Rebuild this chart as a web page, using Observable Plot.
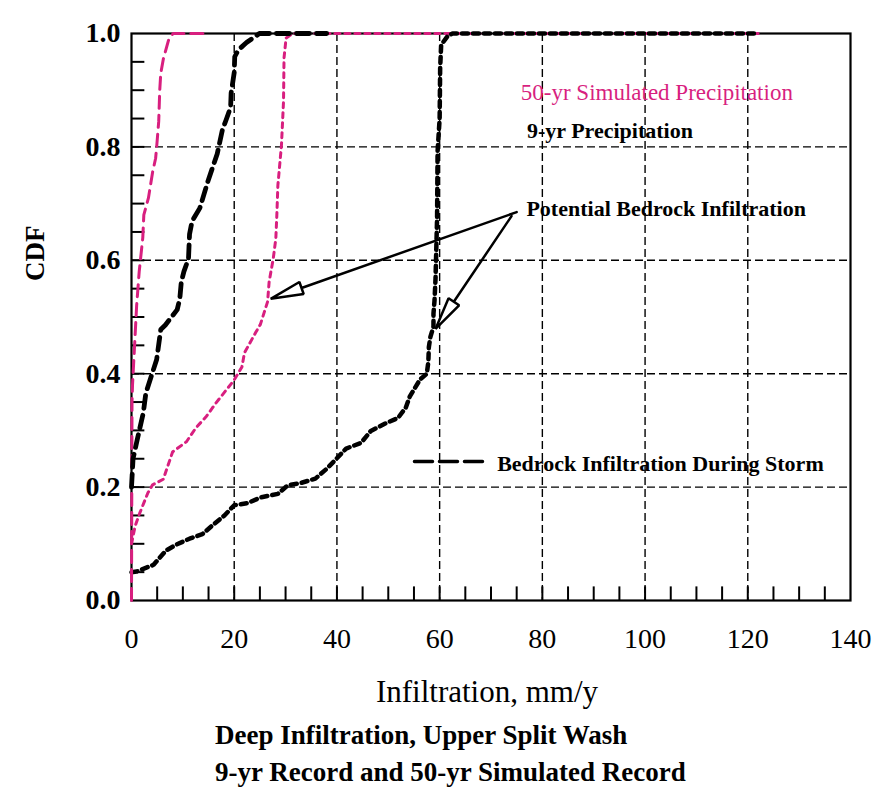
<!DOCTYPE html>
<html>
<head>
<meta charset="utf-8">
<script src="https://cdn.jsdelivr.net/npm/d3@7"></script>
<script src="https://cdn.jsdelivr.net/npm/@observablehq/plot@0.6"></script>
<style>
  body { margin: 0; background: #fff; }
  #wrap { position: relative; width: 872px; height: 795px; background: #fff;
          font-family: "Liberation Serif", "Times New Roman", serif; color: #000; overflow: hidden; }
  #chart { position: absolute; left: 0; top: 0; }
  #xlabel { position: absolute; left: 287px; width: 400px; top: 676px; text-align: center;
            font-size: 31px; line-height: 31px; }
  #title { position: absolute; left: 215px; top: 717px; font-size: 27px; line-height: 37px;
           font-weight: bold; white-space: nowrap; }
</style>
</head>
<body>
<div id="wrap">
  <div id="chart"></div>
  <div id="xlabel">Infiltration, mm/y</div>
  <div id="title">Deep Infiltration, Upper Split Wash<br>9-yr Record and 50-yr Simulated Record</div>
</div>
<script>
// ---- Data ----
// 50-yr simulated precipitation, bedrock infiltration during storm (magenta long dash)
const sim50StormX = [0, 0.1, 0.2, 0.6, 1.0, 1.5, 2.2, 2.4, 3.3, 4.1, 4.7, 4.9, 5.3, 5.5, 5.7, 6.2, 7.2, 8.1, 14.6];
const sim50StormY = [0, 0.35, 0.38, 0.45, 0.52, 0.58, 0.64, 0.68, 0.71, 0.755, 0.78, 0.80, 0.845, 0.90, 0.93, 0.955, 0.988, 1.0, 1.0];

// 50-yr simulated precipitation, potential bedrock infiltration (magenta dotted)
const sim50PotX = [0, 0.7, 1.6, 3.2, 4.1, 6.2, 8.0, 10.7, 12.5, 14.6, 16.5, 20.0, 21.5, 22.0, 24.2, 25.1, 26.5, 26.8, 27.6, 28.1, 28.3, 28.5, 29.2, 29.6, 29.7, 30.1, 31.4, 122];
const sim50PotY = [0.10, 0.131, 0.154, 0.19, 0.204, 0.214, 0.262, 0.28, 0.304, 0.325, 0.349, 0.389, 0.412, 0.437, 0.473, 0.487, 0.527, 0.562, 0.603, 0.638, 0.68, 0.732, 0.803, 0.88, 0.957, 0.992, 1.0, 1.0];

// 9-yr precipitation, bedrock infiltration during storm (black long dash)
const rec9StormX = [0, 0.3, 1.1, 2.3, 2.8, 4.9, 5.7, 6.6, 8.9, 9.4, 9.7, 10.2, 11.1, 11.3, 11.8, 13.3, 14.9, 16.7, 17.7, 18.4, 19.3, 19.4, 20.0, 20.1, 20.8, 22.4, 24.9, 38];
const rec9StormY = [0.20, 0.25, 0.283, 0.331, 0.366, 0.425, 0.478, 0.486, 0.513, 0.532, 0.562, 0.58, 0.603, 0.646, 0.669, 0.692, 0.74, 0.788, 0.83, 0.847, 0.87, 0.895, 0.931, 0.959, 0.971, 0.984, 1.0, 1.0];

// 9-yr precipitation, potential bedrock infiltration (black dotted)
const rec9PotX = [0, 1.0, 4.3, 6.7, 8.6, 11.3, 13.8, 15.7, 18.1, 20.0, 22.7, 25.2, 28.5, 30.4, 32.9, 35.8, 38.1, 39.9, 41.8, 44.7, 46.6, 49.4, 51.9, 53.4, 54.2, 56.2, 57.5, 57.8, 57.9, 58.2, 58.8, 58.8, 59.0, 59.2, 59.5, 59.6, 60.0, 60.1, 60.3, 61.6, 62.5, 122];
const rec9PotY = [0.05, 0.051, 0.063, 0.088, 0.098, 0.109, 0.117, 0.132, 0.15, 0.168, 0.172, 0.182, 0.188, 0.203, 0.207, 0.215, 0.233, 0.25, 0.268, 0.278, 0.299, 0.312, 0.322, 0.34, 0.36, 0.39, 0.40, 0.421, 0.447, 0.465, 0.483, 0.506, 0.529, 0.568, 0.674, 0.792, 0.85, 0.939, 0.98, 0.996, 1.0, 1.0];

// Axis ticks
const xTickLabels = [0, 20, 40, 60, 80, 100, 120, 140];
const yTickLabels = [0, 0.2, 0.4, 0.6, 0.8, 1.0];
const xGrid = [20, 40, 60, 80, 100, 120];
const yGrid = [0.2, 0.4, 0.6, 0.8];
const xMinor = d3.range(5, 140, 5);
const yMinor = d3.range(1, 20).map(i => i * 0.05);

// Annotations (in data coordinates)
const annotText = ["50-yr Simulated Precipitation", "9-yr Precipitation", "Potential Bedrock Infiltration", "Bedrock Infiltration During Storm"];
const annotX = [75.8, 77.0, 76.9, 71.2];
const annotY = [0.895, 0.829, 0.691, 0.241];
const annotColor = ["#d81f7f", "#000", "#000", "#000"];
const arrowFromX = [75.0, 74.0];
const arrowFromY = [0.685, 0.678];
const arrowToX = [27.1, 59.2];
const arrowToY = [0.532, 0.479];
const legendLineX = [55.1, 69.1];
const legendLineY = [0.245, 0.245];

// ---- Build ----
const zip = (xs, ys) => xs.map((x, i) => ({x, y: ys[i]}));
const MAGENTA = "#d81f7f";
const annots = annotText.map((t, i) => ({t, x: annotX[i], y: annotY[i], c: annotColor[i]}));
const arrows = arrowFromX.map((_, i) => ({x1: arrowFromX[i], y1: arrowFromY[i], x2: arrowToX[i], y2: arrowToY[i]}));

const plot = Plot.plot({
  width: 872,
  height: 680,
  marginLeft: 131,
  marginRight: 22,
  marginTop: 33,
  marginBottom: 80,
  style: {fontFamily: "Liberation Serif, Times New Roman, serif", background: "white", color: "black"},
  x: {domain: [0, 140]},
  y: {domain: [0, 1]},
  marks: [
    Plot.ruleX(xGrid, {stroke: "black", strokeWidth: 1.4, strokeDasharray: "8,4"}),
    Plot.ruleY(yGrid, {stroke: "black", strokeWidth: 1.4, strokeDasharray: "8,4"}),
    Plot.ruleX(xMinor, {x: d => d, y1: 0, y2: 0.024, stroke: "black", strokeWidth: 2}),
    Plot.ruleY(yMinor, {y: d => d, x1: 0, x2: 2.6, stroke: "black", strokeWidth: 2}),
    Plot.frame({stroke: "black", strokeWidth: 2.2}),
    Plot.axisX(xTickLabels, {tickSize: 0, tickPadding: 28, fontSize: 28, label: null}),
    Plot.axisY(yTickLabels, {tickSize: 0, tickPadding: 11, fontSize: 28, fontWeight: "bold", tickFormat: d3.format(".1f"), label: null}),
    Plot.text(["CDF"], {frameAnchor: "left", dx: -96, dy: -36, rotate: -90, fontSize: 27, fontWeight: "bold"}),
    // curves
    Plot.line(zip(sim50PotX, sim50PotY), {x: "x", y: "y", stroke: MAGENTA, strokeWidth: 3, strokeDasharray: "5,5"}),
    Plot.line(zip(rec9PotX, rec9PotY), {x: "x", y: "y", stroke: "black", strokeWidth: 4.5, strokeDasharray: "6,5"}),
    Plot.line(zip(sim50StormX, sim50StormY), {x: "x", y: "y", stroke: MAGENTA, strokeWidth: 3, strokeDasharray: "12,7"}),
    Plot.line(zip(rec9StormX, rec9StormY), {x: "x", y: "y", stroke: "black", strokeWidth: 4.8, strokeDasharray: "13,7"}),
    // legend line
    Plot.line(zip(legendLineX, legendLineY), {x: "x", y: "y", stroke: "black", strokeWidth: 3.5, strokeDasharray: "18,7"}),
    // annotations
    Plot.text(annots.slice(0, 1), {x: "x", y: "y", text: "t", fill: "c", textAnchor: "start", lineAnchor: "middle", fontSize: 23}),
    Plot.text(annots.slice(1), {x: "x", y: "y", text: "t", fill: "c", textAnchor: "start", lineAnchor: "middle", fontSize: 22, fontWeight: "bold"}),
    Plot.arrow(arrows, {x1: "x1", y1: "y1", x2: "x2", y2: "y2", stroke: "black", strokeWidth: 2.5, headLength: 20, headAngle: 22})
  ]
});

// Turn the open arrowheads into hollow triangles, as in the reference.
for (const p of plot.querySelectorAll('g[aria-label="arrow"] path')) {
  const n = (p.getAttribute("d") || "").match(/-?\d*\.?\d+(?:e[-+]?\d+)?/g);
  if (!n || n.length < 10) continue;
  const v = n.map(Number);
  const [x1, y1, x2, y2, x3, y3] = v;
  const x4 = v[8], y4 = v[9];
  const mx = (x3 + x4) / 2, my = (y3 + y4) / 2;
  p.setAttribute("d", `M${x1},${y1}L${mx},${my}M${x3},${y3}L${x2},${y2}L${x4},${y4}Z`);
  p.setAttribute("fill", "white");
}

document.getElementById("chart").appendChild(plot);
</script>
</body>
</html>
